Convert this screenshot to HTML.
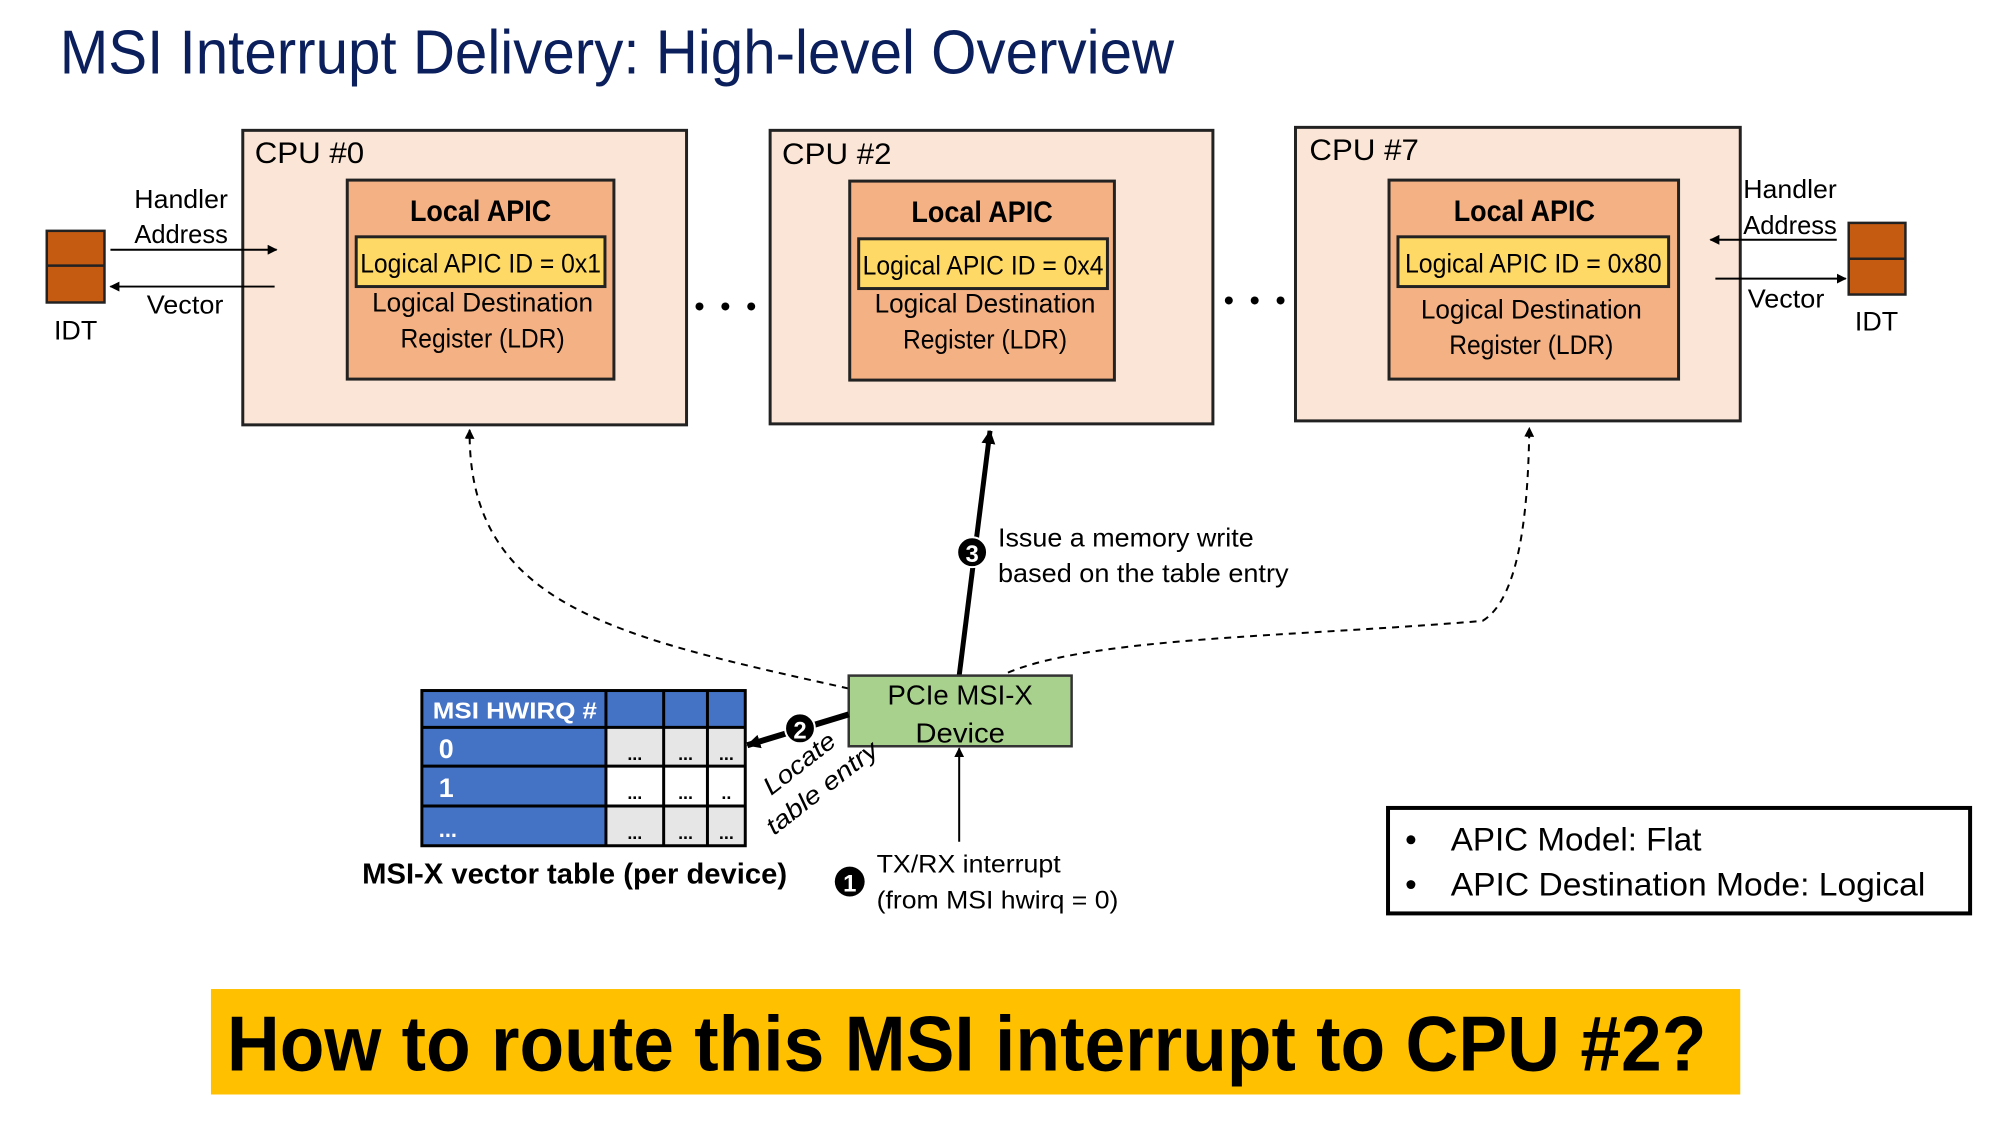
<!DOCTYPE html>
<html><head><meta charset="utf-8"><style>
html,body{margin:0;padding:0;background:#fff;}
svg{display:block;}
text{font-family:"Liberation Sans",sans-serif;}
</style></head><body>
<svg width="2000" height="1125" viewBox="0 0 2000 1125" xmlns="http://www.w3.org/2000/svg">
<defs>
<marker id="ah" markerWidth="10" markerHeight="10" refX="9" refY="5" orient="auto" markerUnits="userSpaceOnUse"><path d="M0,0 L10,5 L0,10 z" fill="#000"/></marker>
<marker id="ahm" markerWidth="14" markerHeight="14" refX="13" refY="7" orient="auto" markerUnits="userSpaceOnUse"><path d="M0,0 L14,7 L0,14 z" fill="#000"/></marker>
</defs>
<g transform="scale(0.995)">
<text x="60" y="74" font-size="62" fill="#0b1f5c" textLength="1120" lengthAdjust="spacingAndGlyphs">MSI Interrupt Delivery: High-level Overview</text>

<rect x="244" y="131" width="446" height="296" fill="#fbe5d6" stroke="#222" stroke-width="3"/>
<rect x="774" y="131" width="445" height="295" fill="#fbe5d6" stroke="#222" stroke-width="3"/>
<rect x="1302" y="128" width="447" height="295" fill="#fbe5d6" stroke="#222" stroke-width="3"/>
<text x="256" y="164" font-size="30" textLength="110" lengthAdjust="spacingAndGlyphs">CPU #0</text>
<text x="786" y="165" font-size="30" textLength="110" lengthAdjust="spacingAndGlyphs">CPU #2</text>
<text x="1316" y="161" font-size="30" textLength="110" lengthAdjust="spacingAndGlyphs">CPU #7</text>

<rect x="349" y="181" width="268" height="200" fill="#f4b183" stroke="#222" stroke-width="3"/>
<rect x="854" y="182" width="266" height="200" fill="#f4b183" stroke="#222" stroke-width="3"/>
<rect x="1396" y="181" width="291" height="200" fill="#f4b183" stroke="#222" stroke-width="3"/>
<g font-size="30" font-weight="bold" text-anchor="middle">
<text x="483" y="222" textLength="142" lengthAdjust="spacingAndGlyphs">Local APIC</text>
<text x="987" y="223" textLength="142" lengthAdjust="spacingAndGlyphs">Local APIC</text>
<text x="1532" y="222" textLength="142" lengthAdjust="spacingAndGlyphs">Local APIC</text>
</g>
<rect x="358" y="238" width="250" height="50" fill="#ffd966" stroke="#222" stroke-width="3"/>
<rect x="863" y="240" width="250" height="50" fill="#ffd966" stroke="#222" stroke-width="3"/>
<rect x="1405" y="238" width="272" height="50" fill="#ffd966" stroke="#222" stroke-width="3"/>
<g font-size="27" text-anchor="middle">
<text x="483" y="274" textLength="242" lengthAdjust="spacingAndGlyphs">Logical APIC ID = 0x1</text>
<text x="988" y="276" textLength="242" lengthAdjust="spacingAndGlyphs">Logical APIC ID = 0x4</text>
<text x="1541" y="274" textLength="258" lengthAdjust="spacingAndGlyphs">Logical APIC ID = 0x80</text>
<text x="485" y="313" textLength="222" lengthAdjust="spacingAndGlyphs">Logical Destination</text>
<text x="485" y="349" textLength="165" lengthAdjust="spacingAndGlyphs">Register (LDR)</text>
<text x="990" y="314" textLength="222" lengthAdjust="spacingAndGlyphs">Logical Destination</text>
<text x="990" y="350" textLength="165" lengthAdjust="spacingAndGlyphs">Register (LDR)</text>
<text x="1539" y="320" textLength="222" lengthAdjust="spacingAndGlyphs">Logical Destination</text>
<text x="1539" y="356" textLength="165" lengthAdjust="spacingAndGlyphs">Register (LDR)</text>
</g>

<g fill="#000"><circle cx="703" cy="308" r="4"/><circle cx="729" cy="308" r="4"/><circle cx="755" cy="308" r="4"/>
<circle cx="1235" cy="302" r="4"/><circle cx="1261" cy="302" r="4"/><circle cx="1287" cy="302" r="4"/></g>

<rect x="47" y="232" width="58" height="72" fill="#c55a11" stroke="#222" stroke-width="2.5"/>
<line x1="47" y1="267" x2="105" y2="267" stroke="#222" stroke-width="2.5"/>
<text x="76" y="341" font-size="27" text-anchor="middle">IDT</text>
<text x="182" y="209" font-size="26" text-anchor="middle" textLength="94" lengthAdjust="spacingAndGlyphs">Handler</text>
<text x="182" y="244" font-size="26" text-anchor="middle" textLength="94" lengthAdjust="spacingAndGlyphs">Address</text>
<line x1="111" y1="251" x2="278" y2="251" stroke="#000" stroke-width="2" marker-end="url(#ah)"/>
<line x1="276" y1="288" x2="111" y2="288" stroke="#000" stroke-width="2" marker-end="url(#ah)"/>
<text x="186" y="315" font-size="26" text-anchor="middle" textLength="77" lengthAdjust="spacingAndGlyphs">Vector</text>

<rect x="1858" y="224" width="57" height="72" fill="#c55a11" stroke="#222" stroke-width="2.5"/>
<line x1="1858" y1="260" x2="1915" y2="260" stroke="#222" stroke-width="2.5"/>
<text x="1886" y="332" font-size="27" text-anchor="middle">IDT</text>
<text x="1799" y="199" font-size="26" text-anchor="middle" textLength="94" lengthAdjust="spacingAndGlyphs">Handler</text>
<text x="1799" y="235" font-size="26" text-anchor="middle" textLength="94" lengthAdjust="spacingAndGlyphs">Address</text>
<line x1="1846" y1="241" x2="1719" y2="241" stroke="#000" stroke-width="2" marker-end="url(#ah)"/>
<line x1="1724" y1="280" x2="1855" y2="280" stroke="#000" stroke-width="2" marker-end="url(#ah)"/>
<text x="1795" y="309" font-size="26" text-anchor="middle" textLength="77" lengthAdjust="spacingAndGlyphs">Vector</text>

<path d="M853,692 C620,640 470,610 472,432" fill="none" stroke="#000" stroke-width="2" stroke-dasharray="7,6" marker-end="url(#ah)"/>
<path d="M1013,676 C1100,640 1300,640 1490,624 C1530,600 1536,500 1537,430" fill="none" stroke="#000" stroke-width="2" stroke-dasharray="7,6" marker-end="url(#ah)"/>

<line x1="964" y1="679" x2="995" y2="433" stroke="#000" stroke-width="5" marker-end="url(#ahm)"/>
<circle cx="977" cy="555" r="15" fill="#000" stroke="#fff" stroke-width="2"/>
<text x="977" y="565" font-size="24" font-weight="bold" fill="#fff" text-anchor="middle">3</text>
<text x="1003" y="549" font-size="26" textLength="257" lengthAdjust="spacingAndGlyphs">Issue a memory write</text>
<text x="1003" y="585" font-size="26" textLength="292" lengthAdjust="spacingAndGlyphs">based on the table entry</text>

<rect x="853" y="679" width="224" height="71" fill="#a9d18e" stroke="#333" stroke-width="2.5"/>
<text x="965" y="708" font-size="28" text-anchor="middle" textLength="146" lengthAdjust="spacingAndGlyphs">PCIe MSI-X</text>
<text x="965" y="746" font-size="28" text-anchor="middle" textLength="90" lengthAdjust="spacingAndGlyphs">Device</text>

<line x1="964" y1="846" x2="964" y2="752" stroke="#000" stroke-width="2" marker-end="url(#ah)"/>
<circle cx="854" cy="886" r="15" fill="#000"/>
<text x="854" y="896" font-size="24" font-weight="bold" fill="#fff" text-anchor="middle">1</text>
<text x="881" y="877" font-size="25" textLength="185" lengthAdjust="spacingAndGlyphs">TX/RX interrupt</text>
<text x="881" y="913" font-size="25" textLength="243" lengthAdjust="spacingAndGlyphs">(from MSI hwirq = 0)</text>

<line x1="853" y1="718" x2="751" y2="749" stroke="#000" stroke-width="6" marker-end="url(#ahm)"/>
<circle cx="804" cy="732" r="15" fill="#000" stroke="#fff" stroke-width="2"/>
<text x="804" y="742" font-size="24" font-weight="bold" fill="#fff" text-anchor="middle">2</text>
<text transform="translate(775,800) rotate(-38)" font-size="25" font-style="italic" textLength="85" lengthAdjust="spacingAndGlyphs">Locate</text>
<text transform="translate(778,840) rotate(-38)" font-size="25" font-style="italic" textLength="135" lengthAdjust="spacingAndGlyphs">table entry</text>

<rect x="424" y="694" width="185" height="156" fill="#4472c4"/>
<rect x="609" y="694" width="140" height="37" fill="#4472c4"/>
<rect x="609" y="731" width="140" height="39" fill="#e7e6e6"/>
<rect x="609" y="770" width="140" height="40" fill="#ffffff"/>
<rect x="609" y="810" width="140" height="40" fill="#e7e6e6"/>
<g stroke="#000" stroke-width="3" fill="none">
<rect x="424" y="694" width="325" height="156"/>
<line x1="424" y1="731" x2="749" y2="731"/><line x1="424" y1="770" x2="749" y2="770"/><line x1="424" y1="810" x2="749" y2="810"/>
<line x1="609" y1="694" x2="609" y2="850"/><line x1="667" y1="694" x2="667" y2="850"/><line x1="711" y1="694" x2="711" y2="850"/>
</g>
<text x="435" y="722" font-size="23" font-weight="bold" fill="#fff" textLength="165" lengthAdjust="spacingAndGlyphs">MSI HWIRQ #</text>
<text x="441" y="762" font-size="27" font-weight="bold" fill="#fff">0</text>
<text x="441" y="801" font-size="27" font-weight="bold" fill="#fff">1</text>
<text x="441" y="841" font-size="22" font-weight="bold" fill="#fff">...</text>
<g font-size="18" font-weight="bold" text-anchor="middle">
<text x="638" y="764">...</text><text x="689" y="764">...</text><text x="730" y="764">...</text>
<text x="638" y="803">...</text><text x="689" y="803">...</text><text x="730" y="803">..</text>
<text x="638" y="843">...</text><text x="689" y="843">...</text><text x="730" y="843">...</text>
</g>
<text x="364" y="888" font-size="29" font-weight="bold" textLength="427" lengthAdjust="spacingAndGlyphs">MSI-X vector table (per device)</text>

<rect x="1395" y="812" width="585" height="106" fill="#fff" stroke="#000" stroke-width="4"/>
<circle cx="1418" cy="844" r="4.5" fill="#000"/>
<circle cx="1418" cy="889" r="4.5" fill="#000"/>
<text x="1458" y="855" font-size="33" textLength="252" lengthAdjust="spacingAndGlyphs">APIC Model: Flat</text>
<text x="1458" y="900" font-size="33" textLength="477" lengthAdjust="spacingAndGlyphs">APIC Destination Mode: Logical</text>

<rect x="212" y="994" width="1537" height="106" fill="#ffc000"/>
<text x="228" y="1076" font-size="78" font-weight="bold" textLength="1487" lengthAdjust="spacingAndGlyphs">How to route this MSI interrupt to CPU #2?</text>
</g>
</svg>
</body></html>
